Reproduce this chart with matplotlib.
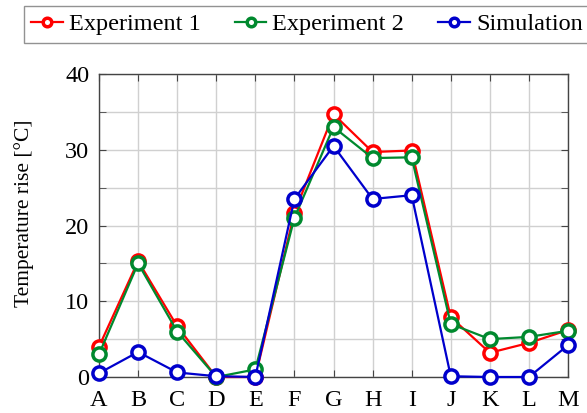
import numpy as np
import matplotlib
matplotlib.use("Agg")
from matplotlib import pyplot as plt
from matplotlib.ticker import MultipleLocator

cats = ['A', 'B', 'C', 'D', 'E', 'F', 'G', 'H', 'I', 'J', 'K', 'L', 'M']
exp1 = [4.0, 15.3, 6.7, 0.0, 0.0, 21.7, 34.7, 29.7, 29.9, 7.9, 3.2, 4.5, 6.2]
exp2 = [3.0, 15.0, 6.0, 0.0, 1.0, 21.0, 33.0, 28.9, 29.0, 7.0, 5.0, 5.3, 6.1]
sim = [0.5, 3.3, 0.6, 0.1, 0.0, 23.5, 30.5, 23.5, 24.0, 0.1, 0.0, 0.0, 4.2]

plt.rcParams['font.family'] = 'Liberation Serif'

fig = plt.figure(figsize=(5.87, 4.13), dpi=100)
ax = fig.add_axes([99/587, 36/413, (568-99)/587, (377-74)/413])

x = np.arange(len(cats))
styles = [(exp1, '#ff0000', 'Experiment 1'),
          (exp2, '#00892e', 'Experiment 2'),
          (sim, '#0000cc', 'Simulation')]
for vals, col, lab in styles:
    ax.plot(x, vals, color=col, lw=1.6, marker='o', ms=9.5, mfc='white',
            mec=col, mew=2.5, label=lab, zorder=3, clip_on=False)

ax.set_xlim(0, len(cats) - 1)
ax.set_ylim(0, 40)
ax.set_xticks(x)
ax.set_xticklabels(cats)
ax.yaxis.set_major_locator(MultipleLocator(10))
ax.yaxis.set_minor_locator(MultipleLocator(5))
ax.grid(True, which='both', color='#d0d0d0', lw=1.0, zorder=0)
ax.tick_params(which='both', direction='in', top=True, right=True,
               labelsize=17.5, color='#444444', length=5)
ax.tick_params(axis='x', pad=9)
ax.tick_params(axis='y', pad=7)
for s in ax.spines.values():
    s.set_color('#444444')
    s.set_linewidth(1.0)
ax.set_ylabel('Temperature rise [°C]', fontsize=15.5)
ax.yaxis.set_label_coords(-0.138, 0.54)

fig.legend(loc='upper left', bbox_to_anchor=(24/587, 1 - 6/413), ncol=3,
           fontsize=17.5, frameon=True, fancybox=False, edgecolor='#777777',
           handlelength=1.3, handletextpad=0.25, columnspacing=1.4,
           borderpad=0.3, borderaxespad=0, markerscale=0.65)

fig.savefig('out.png', dpi=100)
